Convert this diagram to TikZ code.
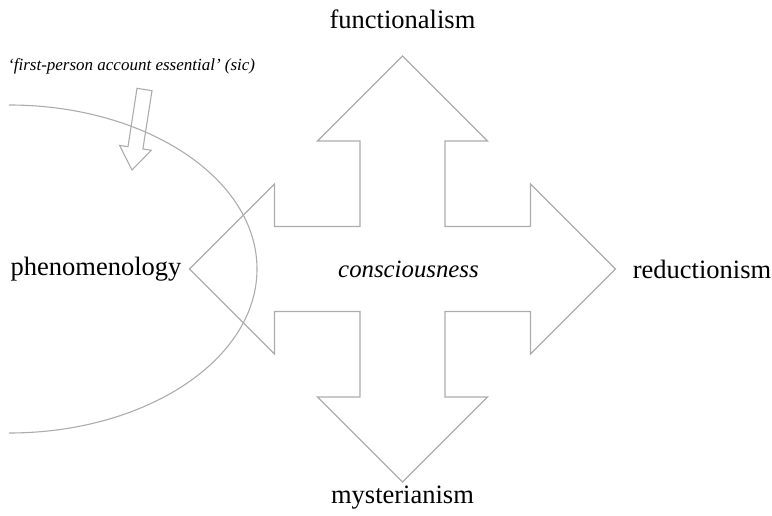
\documentclass[tikz,border=0pt]{standalone}
\usepackage{fontspec}
\setmainfont{Liberation Serif}
\definecolor{linegray}{RGB}{172,172,172}
\tikzset{
  label/.style={inner sep=0pt, font=\fontsize{26.5}{31}\selectfont},
  outline/.style={draw=linegray, line width=1.1pt, line join=miter},
}
\begin{document}
\begin{tikzpicture}[x=1pt, y=-1pt]
\useasboundingbox (0,0) rectangle (772,516);
\coordinate (C) at (402.5,269);

% the four-way arrow
\draw[outline, shift={(C)}] (0,-213) -- (85,-128) -- (42.5,-128) -- (42.5,-42.5)
  -- (128,-42.5) -- (128,-85) -- (213,0) -- (128,85) -- (128,42.5)
  -- (42.5,42.5) -- (42.5,128) -- (85,128) -- (0,213) -- (-85,128)
  -- (-42.5,128) -- (-42.5,42.5) -- (-128,42.5) -- (-128,85) -- (-213,0)
  -- (-128,-85) -- (-128,-42.5) -- (-42.5,-42.5) -- (-42.5,-128)
  -- (-85,-128) -- cycle;

\node (K)[label, font=\fontsize{24.8}{29}\selectfont\itshape] at (408.5,269) {consciousness};
\foreach \name/\pos/\xtext in {F/{(402.5,19)}/functionalism, R/{(702,269)}/reductionism,
  M/{(402.5,498)}/mysterianism, P/{(96,269)}/phenomenology}
{
	\node (\name)[label] at \pos {\xtext};
}

% half ellipse round phenomenology
\draw[outline] (9,105) arc[start angle=-90, end angle=90, x radius=248, y radius=164];

% the small arrow and its note
\node (N)[label, anchor=west, font=\fontsize{17}{20}\selectfont\itshape] at (8,66)
  {‘first-person account essential’ (sic)};
\draw[outline] (137,88.3) -- (152,90.7) -- (142.9,149) -- (151.3,150.3) -- (132,170)
  -- (119.6,145.4) -- (128,146.7) -- cycle;
\end{tikzpicture}
\end{document}
